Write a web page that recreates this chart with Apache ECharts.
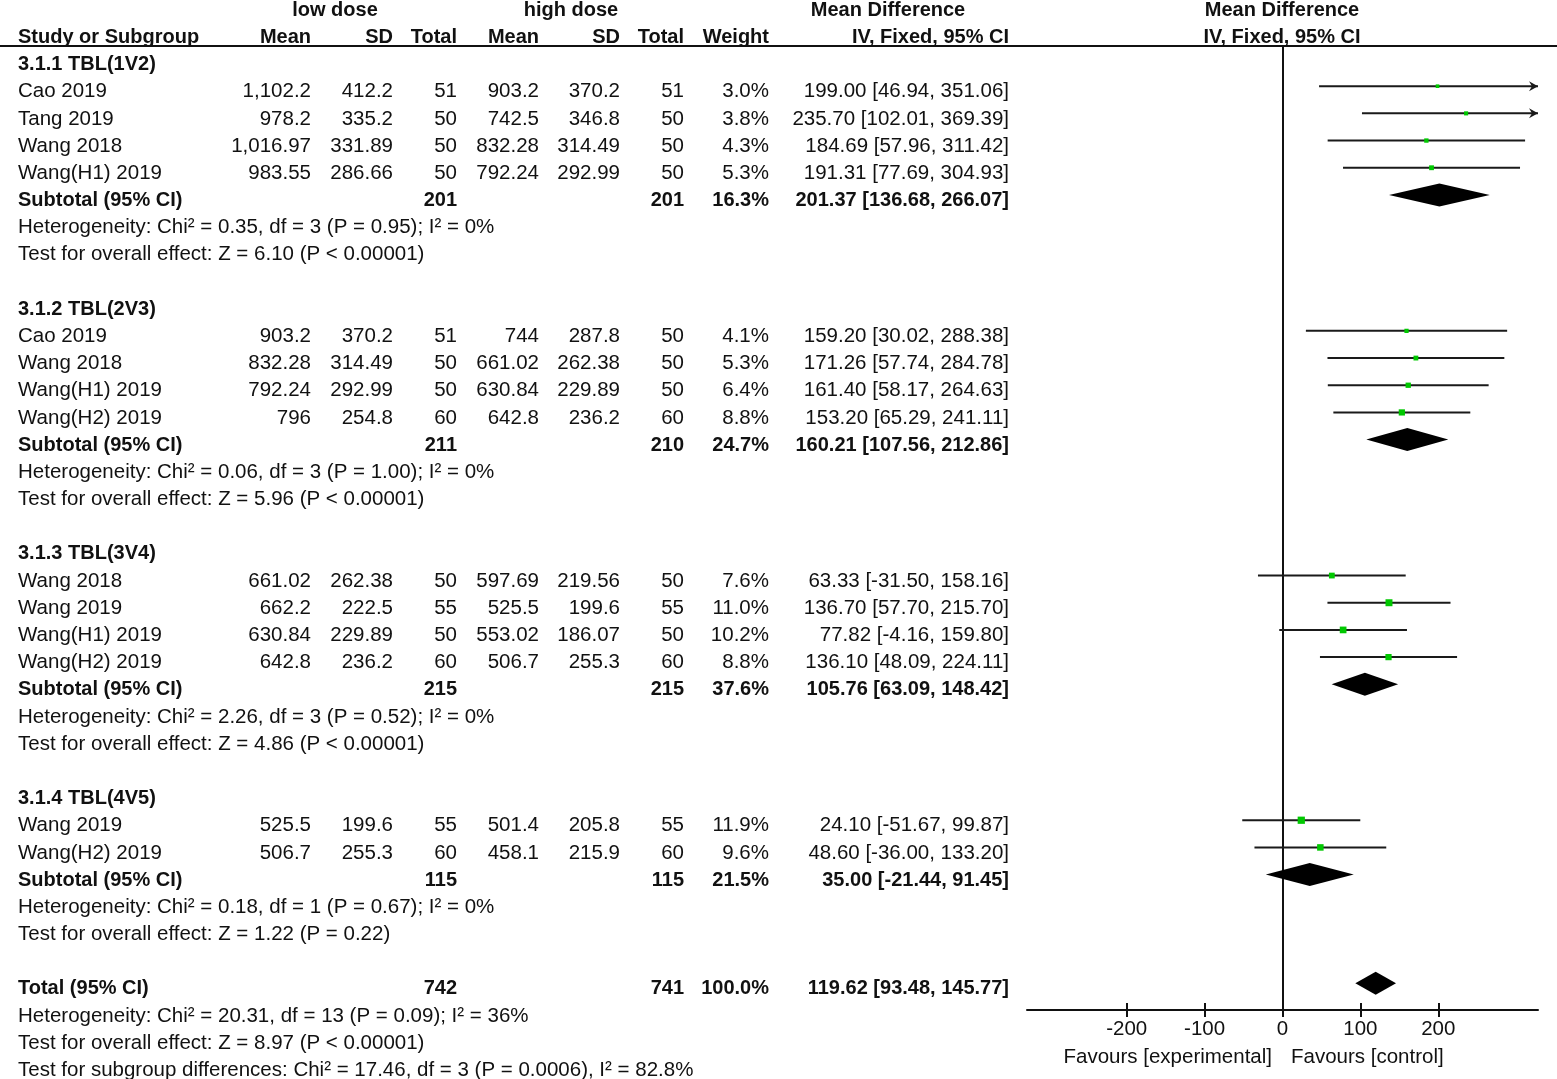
<!DOCTYPE html>
<html><head><meta charset="utf-8">
<script src="https://cdn.jsdelivr.net/npm/echarts@6/dist/echarts.min.js"></script>
<style>html,body{margin:0;padding:0;background:#fff}#c{width:1557px;height:1079px}</style>
</head><body><div id="c"></div>
<script>
// ---------- DATA ----------
const groupTitles = ['3.1.1 TBL(1V2)', '3.1.2 TBL(2V3)', '3.1.3 TBL(3V4)', '3.1.4 TBL(4V5)'];
const studyGroup = [0, 0, 0, 0, 1, 1, 1, 1, 2, 2, 2, 2, 3, 3];
const studyNames = ['Cao 2019', 'Tang 2019', 'Wang 2018', 'Wang(H1) 2019',
  'Cao 2019', 'Wang 2018', 'Wang(H1) 2019', 'Wang(H2) 2019',
  'Wang 2018', 'Wang 2019', 'Wang(H1) 2019', 'Wang(H2) 2019',
  'Wang 2019', 'Wang(H2) 2019'];
const lowMean = [1102.2, 978.2, 1016.97, 983.55, 903.2, 832.28, 792.24, 796, 661.02, 662.2, 630.84, 642.8, 525.5, 506.7];
const lowSD = [412.2, 335.2, 331.89, 286.66, 370.2, 314.49, 292.99, 254.8, 262.38, 222.5, 229.89, 236.2, 199.6, 255.3];
const lowN = [51, 50, 50, 50, 51, 50, 50, 60, 50, 55, 50, 60, 55, 60];
const highMean = [903.2, 742.5, 832.28, 792.24, 744, 661.02, 630.84, 642.8, 597.69, 525.5, 553.02, 506.7, 501.4, 458.1];
const highSD = [370.2, 346.8, 314.49, 292.99, 287.8, 262.38, 229.89, 236.2, 219.56, 199.6, 186.07, 255.3, 205.8, 215.9];
const highN = [51, 50, 50, 50, 50, 50, 50, 60, 50, 55, 50, 60, 55, 60];
const weights = [3.0, 3.8, 4.3, 5.3, 4.1, 5.3, 6.4, 8.8, 7.6, 11.0, 10.2, 8.8, 11.9, 9.6];
const md = [199.00, 235.70, 184.69, 191.31, 159.20, 171.26, 161.40, 153.20, 63.33, 136.70, 77.82, 136.10, 24.10, 48.60];
const ciLow = [46.94, 102.01, 57.96, 77.69, 30.02, 57.74, 58.17, 65.29, -31.50, 57.70, -4.16, 48.09, -51.67, -36.00];
const ciHigh = [351.06, 369.39, 311.42, 304.93, 288.38, 284.78, 264.63, 241.11, 158.16, 215.70, 159.80, 224.11, 99.87, 133.20];

const subLowN = [201, 211, 215, 115];
const subHighN = [201, 210, 215, 115];
const subWeight = [16.3, 24.7, 37.6, 21.5];
const subMD = [201.37, 160.21, 105.76, 35.00];
const subLow = [136.68, 107.56, 63.09, -21.44];
const subHigh = [266.07, 212.86, 148.42, 91.45];
const subHet = [
  'Heterogeneity: Chi² = 0.35, df = 3 (P = 0.95); I² = 0%',
  'Heterogeneity: Chi² = 0.06, df = 3 (P = 1.00); I² = 0%',
  'Heterogeneity: Chi² = 2.26, df = 3 (P = 0.52); I² = 0%',
  'Heterogeneity: Chi² = 0.18, df = 1 (P = 0.67); I² = 0%'];
const subTest = [
  'Test for overall effect: Z = 6.10 (P < 0.00001)',
  'Test for overall effect: Z = 5.96 (P < 0.00001)',
  'Test for overall effect: Z = 4.86 (P < 0.00001)',
  'Test for overall effect: Z = 1.22 (P = 0.22)'];

const totalN = [742, 741];
const totalWeight = 100.0;
const totalEffect = [119.62, 93.48, 145.77];
const totalNotes = [
  'Heterogeneity: Chi² = 20.31, df = 13 (P = 0.09); I² = 36%',
  'Test for overall effect: Z = 8.97 (P < 0.00001)',
  'Test for subgroup differences: Chi² = 17.46, df = 3 (P = 0.0006), I² = 82.8%'];

const headerTop = ['low dose', 'high dose', 'Mean Difference', 'Mean Difference'];
const headerCols = ['Study or Subgroup', 'Mean', 'SD', 'Total', 'Mean', 'SD', 'Total', 'Weight', 'IV, Fixed, 95% CI', 'IV, Fixed, 95% CI'];
const xTicks = [-200, -100, 0, 100, 200];
const favours = ['Favours [experimental]', 'Favours [control]'];

// ---------- LAYOUT ----------
const FONT = '"Liberation Sans", Arial, Helvetica, sans-serif';
const FS = 20.5;
const FSB = 20;
const TXT = '#111';
const colRight = { lowMean: 311, lowSD: 393, lowN: 457, highMean: 539, highSD: 620, highN: 684, weight: 769, ci: 1009 };
const NAME_X = 18;
const X_MIN = -328, X_MAX = 328;

const fmtNum = v => v.toLocaleString('en-US', { maximumFractionDigits: 2 });
const fmtCI = (m, l, h) => m.toFixed(2) + ' [' + l.toFixed(2) + ', ' + h.toFixed(2) + ']';

const texts = [];   // {x, row, text, align, bold}
const studyPts = []; // [md, row, lo, hi, w]
const diamonds = []; // [md, row, lo, hi]
function T(x, row, text, align, bold) { texts.push({ x, row, text, align, bold: !!bold }); }

// headers
T(335, -2, headerTop[0], 'center', true);
T(571, -2, headerTop[1], 'center', true);
T(888, -2, headerTop[2], 'center', true);
T(1282, -2, headerTop[3], 'center', true);
T(NAME_X, -1, headerCols[0], 'left', true);
T(colRight.lowMean, -1, headerCols[1], 'right', true);
T(colRight.lowSD, -1, headerCols[2], 'right', true);
T(colRight.lowN, -1, headerCols[3], 'right', true);
T(colRight.highMean, -1, headerCols[4], 'right', true);
T(colRight.highSD, -1, headerCols[5], 'right', true);
T(colRight.highN, -1, headerCols[6], 'right', true);
T(colRight.weight, -1, headerCols[7], 'right', true);
T(colRight.ci, -1, headerCols[8], 'right', true);
T(1282, -1, headerCols[9], 'center', true);

let r = 0;
for (let g = 0; g < groupTitles.length; g++) {
  T(NAME_X, r, groupTitles[g], 'left', true); r++;
  for (let i = 0; i < studyNames.length; i++) {
    if (studyGroup[i] !== g) continue;
    T(NAME_X, r, studyNames[i], 'left');
    T(colRight.lowMean, r, fmtNum(lowMean[i]), 'right');
    T(colRight.lowSD, r, fmtNum(lowSD[i]), 'right');
    T(colRight.lowN, r, String(lowN[i]), 'right');
    T(colRight.highMean, r, fmtNum(highMean[i]), 'right');
    T(colRight.highSD, r, fmtNum(highSD[i]), 'right');
    T(colRight.highN, r, String(highN[i]), 'right');
    T(colRight.weight, r, weights[i].toFixed(1) + '%', 'right');
    T(colRight.ci, r, fmtCI(md[i], ciLow[i], ciHigh[i]), 'right');
    studyPts.push([md[i], r, ciLow[i], ciHigh[i], weights[i]]);
    r++;
  }
  T(NAME_X, r, 'Subtotal (95% CI)', 'left', true);
  T(colRight.lowN, r, String(subLowN[g]), 'right', true);
  T(colRight.highN, r, String(subHighN[g]), 'right', true);
  T(colRight.weight, r, subWeight[g].toFixed(1) + '%', 'right', true);
  T(colRight.ci, r, fmtCI(subMD[g], subLow[g], subHigh[g]), 'right', true);
  diamonds.push([subMD[g], r, subLow[g], subHigh[g]]);
  r++;
  T(NAME_X, r, subHet[g], 'left'); r++;
  T(NAME_X, r, subTest[g], 'left'); r++;
  r++; // blank
}
T(NAME_X, r, 'Total (95% CI)', 'left', true);
T(colRight.lowN, r, String(totalN[0]), 'right', true);
T(colRight.highN, r, String(totalN[1]), 'right', true);
T(colRight.weight, r, totalWeight.toFixed(1) + '%', 'right', true);
T(colRight.ci, r, fmtCI(totalEffect[0], totalEffect[1], totalEffect[2]), 'right', true);
diamonds.push([totalEffect[0], r, totalEffect[1], totalEffect[2]]);
r++;
for (const n of totalNotes) { T(NAME_X, r, n, 'left'); r++; }
T(1272, 36.52, favours[0], 'right');
T(1291, 36.52, favours[1], 'left');

// ---------- CHART ----------
const chart = echarts.init(document.getElementById('c'), null, { renderer: 'canvas' });
const axisFontStyle = { fontSize: FS, color: TXT, fontFamily: FONT };

const option = {
  animation: false,
  backgroundColor: '#fff',
  grid: [
    { left: 0, top: 0, width: 1557, height: 1079 },
    { left: 1027, top: 46, width: 511, height: 964 }
  ],
  xAxis: [
    { gridIndex: 0, type: 'value', min: 0, max: 1557, show: false },
    {
      gridIndex: 1, type: 'value', min: X_MIN, max: X_MAX, position: 'bottom',
      axisLine: { show: true, onZero: false, lineStyle: { color: TXT, width: 2 } },
      axisTick: { show: true, customValues: xTicks, length: 7, lineStyle: { color: TXT, width: 2 } },
      axisLabel: Object.assign({ customValues: xTicks, margin: 9 }, axisFontStyle),
      splitLine: { show: false }
    },
    {
      gridIndex: 1, type: 'value', min: X_MIN, max: X_MAX, position: 'bottom',
      axisLine: { show: false, onZero: false },
      axisTick: { show: true, inside: true, customValues: xTicks, length: 7, lineStyle: { color: TXT, width: 2 } },
      axisLabel: { show: false },
      splitLine: { show: false }
    }
  ],
  yAxis: [
    { gridIndex: 0, type: 'value', min: -2.372, max: 37.312, inverse: true, show: false },
    {
      gridIndex: 1, type: 'value', min: -0.478, max: 34.98, inverse: true,
      axisLine: { show: true, onZero: true, lineStyle: { color: TXT, width: 2 } },
      axisTick: { show: false }, axisLabel: { show: false }, splitLine: { show: false }
    }
  ],
  series: [
    // header rule
    {
      type: 'custom', xAxisIndex: 0, yAxisIndex: 0, silent: true,
      data: [[0, -0.68, 1557]],
      renderItem: (params, api) => {
        const a = api.coord([api.value(0), api.value(1)]);
        const b = api.coord([api.value(2), api.value(1)]);
        return { type: 'line', shape: { x1: a[0], y1: a[1], x2: b[0], y2: b[1] }, style: { stroke: TXT, lineWidth: 2 } };
      }
    },
    // table texts
    {
      type: 'custom', xAxisIndex: 0, yAxisIndex: 0, silent: true,
      data: texts.map(t => [t.x, t.row]),
      renderItem: (params, api) => {
        const t = texts[params.dataIndex];
        const p = api.coord([api.value(0), api.value(1)]);
        return {
          type: 'text', x: p[0], y: p[1],
          style: {
            text: t.text, fill: TXT, align: t.align, verticalAlign: 'middle',
            font: (t.bold ? 'bold ' + FSB : FS) + 'px ' + FONT
          }
        };
      }
    },
    // study CIs and squares
    {
      type: 'custom', xAxisIndex: 1, yAxisIndex: 1, silent: true, clip: false,
      data: studyPts,
      renderItem: (params, api) => {
        const m = api.value(0), row = api.value(1), lo = api.value(2), hi = api.value(3), w = api.value(4);
        const loC = Math.max(lo, X_MIN), hiC = Math.min(hi, X_MAX);
        const a = api.coord([loC, row]), b = api.coord([hiC, row]), c = api.coord([m, row]);
        const children = [
          { type: 'line', shape: { x1: a[0], y1: a[1], x2: b[0], y2: b[1] }, style: { stroke: '#1a1a1a', lineWidth: 2 } }
        ];
        if (hi > X_MAX) {
          children.push({ type: 'polygon', shape: { points: [[b[0], b[1]], [b[0] - 9, b[1] - 5], [b[0] - 6, b[1]], [b[0] - 9, b[1] + 5]] }, style: { fill: '#1a1a1a' } });
        }
        if (lo < X_MIN) {
          children.push({ type: 'polygon', shape: { points: [[a[0], a[1]], [a[0] + 9, a[1] - 5], [a[0] + 6, a[1]], [a[0] + 9, a[1] + 5]] }, style: { fill: '#1a1a1a' } });
        }
        const s = 2.1 * Math.sqrt(w);
        children.push({ type: 'rect', shape: { x: c[0] - s / 2, y: c[1] - s / 2, width: s, height: s }, style: { fill: '#00c800' } });
        return { type: 'group', children };
      }
    },
    // diamonds
    {
      type: 'custom', xAxisIndex: 1, yAxisIndex: 1, silent: true, clip: false,
      data: diamonds,
      renderItem: (params, api) => {
        const row = api.value(1);
        const c = api.coord([api.value(0), row]);
        const l = api.coord([api.value(2), row]);
        const h = api.coord([api.value(3), row]);
        const hh = 11.5;
        return {
          type: 'polygon',
          shape: { points: [[l[0], c[1]], [c[0], c[1] - hh], [h[0], c[1]], [c[0], c[1] + hh]] },
          style: { fill: '#000' }
        };
      }
    }
  ]
};
chart.setOption(option);
</script>
</body></html>
